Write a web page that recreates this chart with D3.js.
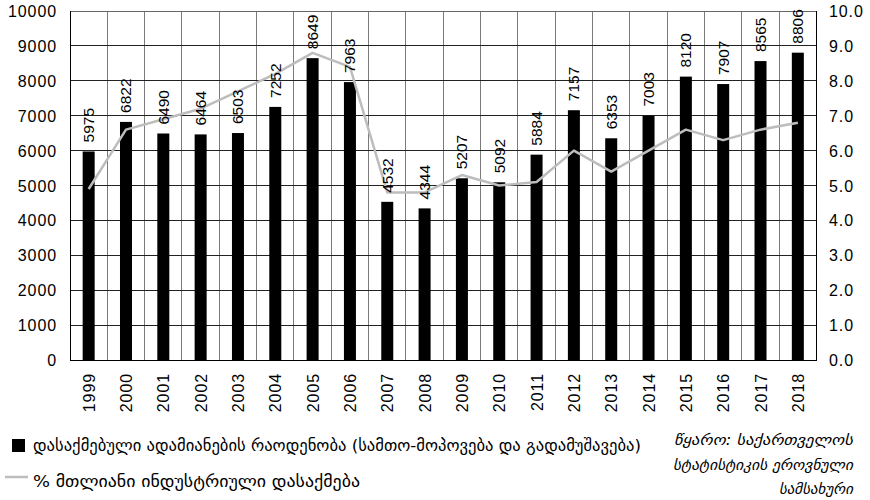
<!DOCTYPE html>
<html>
<head>
<meta charset="utf-8">
<script src="https://cdn.jsdelivr.net/npm/d3@7"></script>
<style>
  body { margin: 0; background: #fff; }
  svg { display: block; }
  text { font-family: "Liberation Sans", Arial, sans-serif; fill: #000; }
  .geo { font-family: "DejaVu Sans", "Noto Sans", sans-serif; }
</style>
</head>
<body>
<svg id="chart" width="870" height="500"></svg>
<script>
const years = ["1999","2000","2001","2002","2003","2004","2005","2006","2007","2008","2009","2010","2011","2012","2013","2014","2015","2016","2017","2018"];
const employed = [5975,6822,6490,6464,6503,7252,8649,7963,4532,4344,5207,5092,5884,7157,6353,7003,8120,7907,8565,8806];
const industryShare = [4.9,6.6,6.9,7.2,7.7,8.2,8.8,8.4,4.8,4.8,5.3,5.0,5.1,6.0,5.4,6.0,6.6,6.3,6.6,6.8];
const leftTicks = [0,1000,2000,3000,4000,5000,6000,7000,8000,9000,10000];
const rightTicks = [0,1,2,3,4,5,6,7,8,9,10];
const legendBar = "დასაქმებული ადამიანების რაოდენობა (სამთო-მოპოვება და გადამუშავება)";
const legendLine = "% მთლიანი ინდუსტრიული დასაქმება";
const sourceLines = ["წყარო: საქართველოს", "სტატისტიკის ეროვნული", "სამსახური"];

const svg = d3.select("#chart");
const L = 70, R = 816.5, T = 11, B = 360;

const x = d3.scaleBand().domain(years).range([L, R]).paddingInner(0).paddingOuter(0);
const yL = d3.scaleLinear().domain([0, 10000]).range([B, T]);
const yR = d3.scaleLinear().domain([0, 10]).range([B, T]);

// vertical gridlines at category boundaries
const bounds = years.slice(1).map(d => x(d));
svg.append("g").selectAll("line").data(bounds).join("line")
  .attr("x1", d => d).attr("x2", d => d).attr("y1", T).attr("y2", B)
  .attr("stroke", "#7a7a7a").attr("stroke-width", 1).attr("shape-rendering", "crispEdges");

// horizontal gridlines
svg.append("g").selectAll("line").data(leftTicks.slice(1)).join("line")
  .attr("x1", L).attr("x2", R).attr("y1", d => yL(d)).attr("y2", d => yL(d))
  .attr("stroke", d => d === 10000 ? "#666" : "#222").attr("stroke-width", 1).attr("shape-rendering", "crispEdges");

// bars
const barW = 12;
svg.append("g").selectAll("rect").data(employed).join("rect")
  .attr("x", (d, i) => x(years[i]) + x.bandwidth() / 2 - barW / 2)
  .attr("width", barW)
  .attr("y", d => yL(d))
  .attr("height", d => B - yL(d))
  .attr("fill", "#000");

// line
const line = d3.line().x((d, i) => x(years[i]) + x.bandwidth() / 2).y(d => yR(d));
svg.append("path").datum(industryShare).attr("d", line)
  .attr("fill", "none").attr("stroke", "#bdbdbd").attr("stroke-width", 2.5).attr("stroke-linejoin", "round");

// value labels
svg.append("g").selectAll("text").data(employed).join("text")
  .attr("transform", (d, i) => `translate(${x(years[i]) + x.bandwidth() / 2 + 5.5},${yL(d) - 9}) rotate(-90)`)
  .attr("text-anchor", "start")
  .style("font-size", "15.5px")
  .text(d => d);

// axes frame
svg.append("line").attr("x1", L).attr("x2", L).attr("y1", T).attr("y2", B).attr("stroke", "#000").attr("shape-rendering", "crispEdges");
svg.append("line").attr("x1", R).attr("x2", R).attr("y1", T).attr("y2", B).attr("stroke", "#000").attr("shape-rendering", "crispEdges");
svg.append("line").attr("x1", L).attr("x2", R).attr("y1", B).attr("y2", B).attr("stroke", "#000").attr("shape-rendering", "crispEdges");

// left axis labels
svg.append("g").selectAll("text").data(leftTicks).join("text")
  .attr("x", 57).attr("y", d => yL(d) + 6)
  .attr("text-anchor", "end")
  .style("font-size", "16px").style("letter-spacing", "0.9px")
  .text(d => d);

// right axis labels
svg.append("g").selectAll("text").data(rightTicks).join("text")
  .attr("x", 829).attr("y", d => yR(d) + 6)
  .attr("text-anchor", "start")
  .style("font-size", "16px").style("letter-spacing", "0.9px")
  .text(d => d3.format(".1f")(d));

// year labels
svg.append("g").selectAll("text").data(years).join("text")
  .attr("transform", d => `translate(${x(d) + x.bandwidth() / 2 + 6},373) rotate(-90)`)
  .attr("text-anchor", "end")
  .style("font-size", "16px").style("letter-spacing", "0.9px")
  .text(d => d);

// legend
svg.append("rect").attr("x", 12).attr("y", 439).attr("width", 13).attr("height", 13).attr("fill", "#000");
svg.append("text").attr("class", "geo").attr("x", 33).attr("y", 451)
  .style("font-size", "16px")
  .attr("textLength", 608).attr("lengthAdjust", "spacingAndGlyphs")
  .text(legendBar);
svg.append("line").attr("x1", 5).attr("x2", 28).attr("y1", 477).attr("y2", 477).attr("stroke", "#bdbdbd").attr("stroke-width", 2.5);
svg.append("text").attr("class", "geo").attr("x", 33).attr("y", 487)
  .style("font-size", "16px")
  .attr("textLength", 327).attr("lengthAdjust", "spacingAndGlyphs")
  .text(legendLine);

// source note
const srcWidths = [179, 180, 50];
sourceLines.forEach((s, i) => {
  const t = svg.append("text").attr("class", "geo")
    .attr("x", 853).attr("y", 445 + i * 24.5)
    .attr("text-anchor", "end")
    .style("font-size", "15px").style("font-style", "italic")
    .text(s);
  if (i < 2) t.attr("textLength", srcWidths[i]).attr("lengthAdjust", "spacingAndGlyphs");
});
</script>
</body>
</html>
